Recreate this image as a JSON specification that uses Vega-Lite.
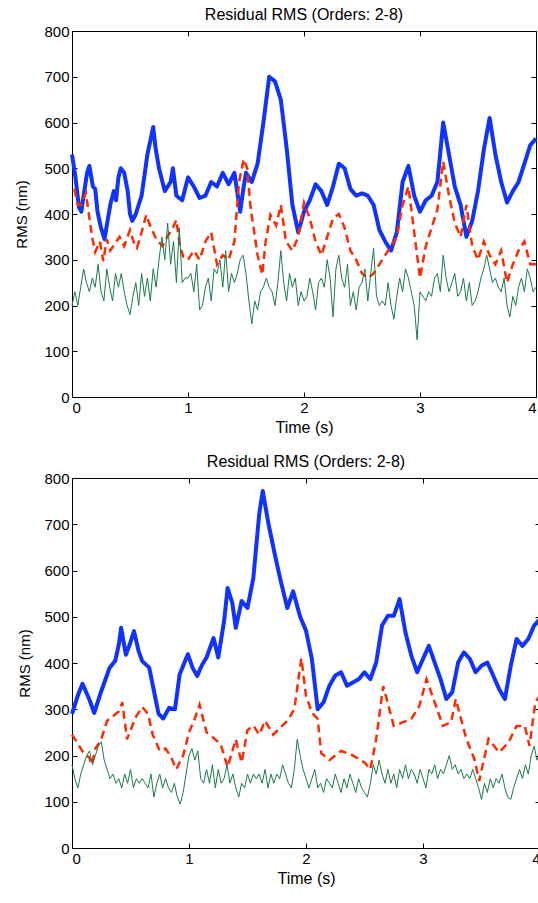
{
 "$schema": "https://vega.github.io/schema/vega-lite/v6.json",
 "padding": {"left": 14, "top": 6, "right": 0, "bottom": 0},
 "background": "white",
 "spacing": 17,
 "columns": 1,
 "align": "none",
 "config": {
  "font": "Liberation Sans",
  "view": {"stroke": "black", "strokeWidth": 1},
  "axis": {"domain": false, "grid": false, "ticks": true, "tickSize": -5, "tickColor": "black", "labelColor": "black", "titleColor": "black", "labelFont": "Liberation Sans", "labelFontSize": 15, "titleFont": "Liberation Sans", "titleFontSize": 15, "titleFontWeight": "normal"},
  "title": {"font": "Liberation Sans", "fontSize": 16, "fontWeight": "normal", "color": "black"}
 },
 "datasets": {
  "top_blue": [{"t":0,"v":530},{"t":0.03,"v":480},{"t":0.06,"v":415},{"t":0.08,"v":405},{"t":0.1,"v":440},{"t":0.13,"v":490},{"t":0.15,"v":505},{"t":0.18,"v":460},{"t":0.2,"v":455},{"t":0.22,"v":405},{"t":0.25,"v":370},{"t":0.28,"v":345},{"t":0.3,"v":375},{"t":0.33,"v":420},{"t":0.36,"v":450},{"t":0.38,"v":430},{"t":0.4,"v":480},{"t":0.42,"v":500},{"t":0.45,"v":490},{"t":0.48,"v":450},{"t":0.5,"v":400},{"t":0.52,"v":385},{"t":0.55,"v":400},{"t":0.6,"v":440},{"t":0.65,"v":530},{"t":0.7,"v":590},{"t":0.72,"v":545},{"t":0.75,"v":500},{"t":0.8,"v":450},{"t":0.85,"v":470},{"t":0.87,"v":500},{"t":0.9,"v":440},{"t":0.95,"v":430},{"t":1.0,"v":480},{"t":1.05,"v":460},{"t":1.1,"v":435},{"t":1.15,"v":440},{"t":1.2,"v":470},{"t":1.25,"v":460},{"t":1.3,"v":490},{"t":1.35,"v":465},{"t":1.4,"v":490},{"t":1.45,"v":405},{"t":1.48,"v":460},{"t":1.5,"v":490},{"t":1.55,"v":470},{"t":1.6,"v":510},{"t":1.65,"v":600},{"t":1.7,"v":700},{"t":1.75,"v":690},{"t":1.8,"v":650},{"t":1.85,"v":545},{"t":1.9,"v":420},{"t":1.95,"v":360},{"t":2.0,"v":405},{"t":2.05,"v":430},{"t":2.1,"v":465},{"t":2.15,"v":450},{"t":2.2,"v":420},{"t":2.25,"v":460},{"t":2.3,"v":510},{"t":2.35,"v":500},{"t":2.4,"v":455},{"t":2.45,"v":440},{"t":2.5,"v":445},{"t":2.55,"v":440},{"t":2.6,"v":420},{"t":2.65,"v":365},{"t":2.7,"v":340},{"t":2.75,"v":320},{"t":2.8,"v":360},{"t":2.85,"v":470},{"t":2.9,"v":505},{"t":2.95,"v":440},{"t":3.0,"v":405},{"t":3.05,"v":430},{"t":3.1,"v":440},{"t":3.15,"v":470},{"t":3.2,"v":600},{"t":3.25,"v":530},{"t":3.3,"v":460},{"t":3.35,"v":420},{"t":3.4,"v":350},{"t":3.45,"v":385},{"t":3.5,"v":450},{"t":3.55,"v":540},{"t":3.6,"v":610},{"t":3.65,"v":530},{"t":3.7,"v":470},{"t":3.75,"v":425},{"t":3.8,"v":450},{"t":3.85,"v":470},{"t":3.9,"v":510},{"t":3.95,"v":550},{"t":4.0,"v":565}],
  "top_red": [{"t":0.02,"v":455},{"t":0.05,"v":420},{"t":0.08,"v":420},{"t":0.12,"v":446},{"t":0.17,"v":354},{"t":0.2,"v":317},{"t":0.24,"v":340},{"t":0.27,"v":297},{"t":0.3,"v":345},{"t":0.33,"v":320},{"t":0.36,"v":332},{"t":0.41,"v":350},{"t":0.45,"v":330},{"t":0.5,"v":365},{"t":0.53,"v":340},{"t":0.56,"v":326},{"t":0.6,"v":360},{"t":0.64,"v":398},{"t":0.68,"v":370},{"t":0.73,"v":343},{"t":0.78,"v":330},{"t":0.82,"v":350},{"t":0.86,"v":365},{"t":0.9,"v":387},{"t":0.93,"v":330},{"t":0.96,"v":306},{"t":1.0,"v":300},{"t":1.05,"v":320},{"t":1.1,"v":300},{"t":1.15,"v":340},{"t":1.2,"v":360},{"t":1.25,"v":290},{"t":1.3,"v":310},{"t":1.35,"v":300},{"t":1.4,"v":340},{"t":1.44,"v":470},{"t":1.48,"v":520},{"t":1.51,"v":500},{"t":1.54,"v":413},{"t":1.6,"v":310},{"t":1.64,"v":267},{"t":1.67,"v":341},{"t":1.71,"v":398},{"t":1.76,"v":375},{"t":1.8,"v":420},{"t":1.845,"v":340},{"t":1.9,"v":320},{"t":1.95,"v":350},{"t":2.0,"v":425},{"t":2.05,"v":390},{"t":2.1,"v":340},{"t":2.15,"v":310},{"t":2.2,"v":350},{"t":2.25,"v":390},{"t":2.3,"v":400},{"t":2.35,"v":370},{"t":2.4,"v":320},{"t":2.45,"v":300},{"t":2.5,"v":270},{"t":2.55,"v":260},{"t":2.6,"v":270},{"t":2.65,"v":290},{"t":2.7,"v":310},{"t":2.75,"v":330},{"t":2.8,"v":350},{"t":2.85,"v":420},{"t":2.9,"v":460},{"t":2.95,"v":360},{"t":3.0,"v":260},{"t":3.05,"v":330},{"t":3.1,"v":370},{"t":3.15,"v":410},{"t":3.2,"v":515},{"t":3.25,"v":440},{"t":3.3,"v":380},{"t":3.35,"v":350},{"t":3.4,"v":420},{"t":3.45,"v":330},{"t":3.5,"v":300},{"t":3.55,"v":340},{"t":3.6,"v":310},{"t":3.65,"v":290},{"t":3.7,"v":320},{"t":3.75,"v":250},{"t":3.8,"v":290},{"t":3.85,"v":320},{"t":3.9,"v":340},{"t":3.95,"v":290},{"t":4.0,"v":290}],
  "top_green": [{"t":0,"v":200},{"t":0.025,"v":230},{"t":0.05,"v":200},{"t":0.075,"v":240},{"t":0.1,"v":280},{"t":0.125,"v":250},{"t":0.15,"v":230},{"t":0.175,"v":260},{"t":0.2,"v":240},{"t":0.225,"v":290},{"t":0.25,"v":230},{"t":0.275,"v":210},{"t":0.3,"v":280},{"t":0.325,"v":240},{"t":0.35,"v":210},{"t":0.375,"v":270},{"t":0.4,"v":240},{"t":0.425,"v":270},{"t":0.45,"v":230},{"t":0.475,"v":200},{"t":0.5,"v":180},{"t":0.525,"v":220},{"t":0.55,"v":250},{"t":0.575,"v":200},{"t":0.6,"v":270},{"t":0.625,"v":220},{"t":0.65,"v":260},{"t":0.675,"v":210},{"t":0.7,"v":280},{"t":0.725,"v":240},{"t":0.75,"v":300},{"t":0.775,"v":350},{"t":0.8,"v":300},{"t":0.825,"v":380},{"t":0.85,"v":290},{"t":0.875,"v":340},{"t":0.9,"v":250},{"t":0.925,"v":370},{"t":0.95,"v":250},{"t":0.975,"v":260},{"t":1.0,"v":260},{"t":1.025,"v":270},{"t":1.05,"v":230},{"t":1.075,"v":290},{"t":1.1,"v":190},{"t":1.125,"v":200},{"t":1.15,"v":240},{"t":1.175,"v":260},{"t":1.2,"v":210},{"t":1.225,"v":280},{"t":1.25,"v":270},{"t":1.275,"v":300},{"t":1.3,"v":240},{"t":1.325,"v":320},{"t":1.35,"v":230},{"t":1.375,"v":270},{"t":1.4,"v":250},{"t":1.425,"v":270},{"t":1.45,"v":300},{"t":1.475,"v":310},{"t":1.5,"v":270},{"t":1.525,"v":210},{"t":1.55,"v":160},{"t":1.575,"v":210},{"t":1.6,"v":190},{"t":1.625,"v":230},{"t":1.65,"v":240},{"t":1.675,"v":260},{"t":1.7,"v":240},{"t":1.725,"v":230},{"t":1.75,"v":200},{"t":1.775,"v":250},{"t":1.8,"v":320},{"t":1.825,"v":250},{"t":1.85,"v":210},{"t":1.875,"v":270},{"t":1.9,"v":240},{"t":1.925,"v":260},{"t":1.95,"v":200},{"t":1.975,"v":230},{"t":2.0,"v":210},{"t":2.025,"v":220},{"t":2.05,"v":260},{"t":2.075,"v":230},{"t":2.1,"v":190},{"t":2.125,"v":250},{"t":2.15,"v":260},{"t":2.175,"v":240},{"t":2.2,"v":300},{"t":2.225,"v":260},{"t":2.25,"v":175},{"t":2.275,"v":280},{"t":2.3,"v":310},{"t":2.325,"v":260},{"t":2.35,"v":240},{"t":2.375,"v":290},{"t":2.4,"v":200},{"t":2.425,"v":230},{"t":2.45,"v":190},{"t":2.475,"v":240},{"t":2.5,"v":250},{"t":2.525,"v":280},{"t":2.55,"v":210},{"t":2.575,"v":270},{"t":2.6,"v":325},{"t":2.625,"v":220},{"t":2.65,"v":200},{"t":2.675,"v":210},{"t":2.7,"v":200},{"t":2.725,"v":250},{"t":2.75,"v":200},{"t":2.775,"v":170},{"t":2.8,"v":220},{"t":2.825,"v":260},{"t":2.85,"v":230},{"t":2.875,"v":280},{"t":2.9,"v":260},{"t":2.925,"v":230},{"t":2.95,"v":200},{"t":2.975,"v":125},{"t":3.0,"v":230},{"t":3.025,"v":220},{"t":3.05,"v":210},{"t":3.075,"v":230},{"t":3.1,"v":220},{"t":3.125,"v":260},{"t":3.15,"v":270},{"t":3.175,"v":230},{"t":3.2,"v":310},{"t":3.225,"v":260},{"t":3.25,"v":230},{"t":3.275,"v":250},{"t":3.3,"v":270},{"t":3.325,"v":220},{"t":3.35,"v":230},{"t":3.375,"v":260},{"t":3.4,"v":210},{"t":3.425,"v":250},{"t":3.45,"v":200},{"t":3.475,"v":210},{"t":3.5,"v":230},{"t":3.525,"v":260},{"t":3.55,"v":280},{"t":3.575,"v":310},{"t":3.6,"v":280},{"t":3.625,"v":250},{"t":3.65,"v":260},{"t":3.675,"v":240},{"t":3.7,"v":230},{"t":3.725,"v":260},{"t":3.75,"v":200},{"t":3.775,"v":175},{"t":3.8,"v":220},{"t":3.825,"v":200},{"t":3.85,"v":240},{"t":3.875,"v":260},{"t":3.9,"v":230},{"t":3.925,"v":280},{"t":3.95,"v":260},{"t":3.975,"v":230},{"t":4.0,"v":240}],
  "bot_blue": [{"t":0,"v":290},{"t":0.05,"v":330},{"t":0.09,"v":355},{"t":0.15,"v":320},{"t":0.19,"v":292},{"t":0.25,"v":339},{"t":0.32,"v":389},{"t":0.37,"v":405},{"t":0.4,"v":440},{"t":0.42,"v":476},{"t":0.46,"v":418},{"t":0.5,"v":445},{"t":0.53,"v":469},{"t":0.57,"v":425},{"t":0.6,"v":404},{"t":0.66,"v":390},{"t":0.7,"v":340},{"t":0.74,"v":290},{"t":0.78,"v":280},{"t":0.83,"v":303},{"t":0.88,"v":300},{"t":0.92,"v":375},{"t":0.99,"v":419},{"t":1.03,"v":390},{"t":1.07,"v":372},{"t":1.11,"v":395},{"t":1.15,"v":412},{"t":1.21,"v":454},{"t":1.25,"v":412},{"t":1.3,"v":491},{"t":1.33,"v":562},{"t":1.37,"v":530},{"t":1.4,"v":476},{"t":1.45,"v":534},{"t":1.5,"v":519},{"t":1.55,"v":584},{"t":1.6,"v":722},{"t":1.63,"v":772},{"t":1.68,"v":700},{"t":1.74,"v":627},{"t":1.78,"v":582},{"t":1.84,"v":519},{"t":1.89,"v":555},{"t":1.95,"v":500},{"t":2.0,"v":470},{"t":2.05,"v":409},{"t":2.1,"v":300},{"t":2.15,"v":315},{"t":2.2,"v":351},{"t":2.25,"v":373},{"t":2.3,"v":380},{"t":2.35,"v":351},{"t":2.4,"v":358},{"t":2.45,"v":365},{"t":2.5,"v":380},{"t":2.55,"v":365},{"t":2.6,"v":401},{"t":2.65,"v":481},{"t":2.7,"v":502},{"t":2.75,"v":502},{"t":2.8,"v":538},{"t":2.85,"v":466},{"t":2.9,"v":416},{"t":2.95,"v":380},{"t":3.0,"v":409},{"t":3.05,"v":437},{"t":3.1,"v":401},{"t":3.15,"v":365},{"t":3.2,"v":322},{"t":3.25,"v":337},{"t":3.3,"v":401},{"t":3.35,"v":423},{"t":3.4,"v":409},{"t":3.45,"v":380},{"t":3.5,"v":394},{"t":3.55,"v":401},{"t":3.6,"v":373},{"t":3.65,"v":344},{"t":3.7,"v":322},{"t":3.75,"v":394},{"t":3.8,"v":452},{"t":3.85,"v":437},{"t":3.9,"v":452},{"t":3.95,"v":481},{"t":4.0,"v":495}],
  "bot_red": [{"t":0,"v":245},{"t":0.05,"v":225},{"t":0.1,"v":205},{"t":0.15,"v":195},{"t":0.17,"v":180},{"t":0.2,"v":215},{"t":0.25,"v":235},{"t":0.3,"v":275},{"t":0.35,"v":285},{"t":0.4,"v":295},{"t":0.43,"v":315},{"t":0.47,"v":235},{"t":0.5,"v":255},{"t":0.55,"v":285},{"t":0.6,"v":305},{"t":0.65,"v":290},{"t":0.69,"v":245},{"t":0.75,"v":210},{"t":0.8,"v":215},{"t":0.85,"v":195},{"t":0.89,"v":170},{"t":0.95,"v":200},{"t":1.0,"v":250},{"t":1.05,"v":280},{"t":1.09,"v":310},{"t":1.15,"v":250},{"t":1.2,"v":240},{"t":1.27,"v":225},{"t":1.33,"v":175},{"t":1.4,"v":235},{"t":1.45,"v":185},{"t":1.5,"v":255},{"t":1.55,"v":265},{"t":1.6,"v":245},{"t":1.65,"v":275},{"t":1.72,"v":245},{"t":1.78,"v":260},{"t":1.84,"v":275},{"t":1.9,"v":300},{"t":1.96,"v":410},{"t":2.0,"v":330},{"t":2.05,"v":293},{"t":2.1,"v":279},{"t":2.13,"v":205},{"t":2.2,"v":190},{"t":2.3,"v":210},{"t":2.4,"v":200},{"t":2.5,"v":185},{"t":2.55,"v":170},{"t":2.6,"v":236},{"t":2.66,"v":350},{"t":2.69,"v":322},{"t":2.75,"v":264},{"t":2.83,"v":272},{"t":2.9,"v":279},{"t":2.97,"v":308},{"t":3.03,"v":365},{"t":3.09,"v":322},{"t":3.17,"v":264},{"t":3.24,"v":272},{"t":3.28,"v":322},{"t":3.37,"v":236},{"t":3.44,"v":192},{"t":3.48,"v":145},{"t":3.56,"v":236},{"t":3.65,"v":207},{"t":3.73,"v":228},{"t":3.8,"v":264},{"t":3.87,"v":264},{"t":3.91,"v":221},{"t":3.96,"v":315},{"t":4.0,"v":330}],
  "bot_green": [{"t":0,"v":180},{"t":0.025,"v":150},{"t":0.05,"v":130},{"t":0.075,"v":160},{"t":0.1,"v":180},{"t":0.125,"v":200},{"t":0.15,"v":210},{"t":0.175,"v":180},{"t":0.2,"v":200},{"t":0.225,"v":220},{"t":0.25,"v":230},{"t":0.275,"v":190},{"t":0.3,"v":170},{"t":0.325,"v":150},{"t":0.35,"v":160},{"t":0.375,"v":140},{"t":0.4,"v":150},{"t":0.425,"v":130},{"t":0.45,"v":160},{"t":0.475,"v":140},{"t":0.5,"v":170},{"t":0.525,"v":130},{"t":0.55,"v":150},{"t":0.575,"v":140},{"t":0.6,"v":150},{"t":0.625,"v":140},{"t":0.65,"v":130},{"t":0.675,"v":160},{"t":0.7,"v":110},{"t":0.725,"v":140},{"t":0.75,"v":160},{"t":0.775,"v":130},{"t":0.8,"v":150},{"t":0.825,"v":130},{"t":0.85,"v":120},{"t":0.875,"v":140},{"t":0.9,"v":110},{"t":0.925,"v":95},{"t":0.95,"v":120},{"t":0.975,"v":160},{"t":1.0,"v":200},{"t":1.025,"v":215},{"t":1.05,"v":190},{"t":1.075,"v":210},{"t":1.1,"v":150},{"t":1.125,"v":140},{"t":1.15,"v":170},{"t":1.175,"v":140},{"t":1.2,"v":180},{"t":1.225,"v":130},{"t":1.25,"v":170},{"t":1.275,"v":140},{"t":1.3,"v":150},{"t":1.325,"v":180},{"t":1.35,"v":140},{"t":1.375,"v":160},{"t":1.4,"v":130},{"t":1.425,"v":110},{"t":1.45,"v":140},{"t":1.475,"v":130},{"t":1.5,"v":160},{"t":1.525,"v":140},{"t":1.55,"v":160},{"t":1.575,"v":150},{"t":1.6,"v":160},{"t":1.625,"v":140},{"t":1.65,"v":170},{"t":1.675,"v":130},{"t":1.7,"v":160},{"t":1.725,"v":140},{"t":1.75,"v":160},{"t":1.775,"v":150},{"t":1.8,"v":180},{"t":1.825,"v":160},{"t":1.85,"v":140},{"t":1.875,"v":130},{"t":1.9,"v":170},{"t":1.925,"v":235},{"t":1.95,"v":200},{"t":1.975,"v":170},{"t":2.0,"v":150},{"t":2.025,"v":130},{"t":2.05,"v":150},{"t":2.075,"v":170},{"t":2.1,"v":130},{"t":2.125,"v":140},{"t":2.15,"v":120},{"t":2.175,"v":150},{"t":2.2,"v":140},{"t":2.225,"v":130},{"t":2.25,"v":160},{"t":2.275,"v":140},{"t":2.3,"v":120},{"t":2.325,"v":150},{"t":2.35,"v":130},{"t":2.375,"v":160},{"t":2.4,"v":140},{"t":2.425,"v":120},{"t":2.45,"v":150},{"t":2.475,"v":130},{"t":2.5,"v":120},{"t":2.525,"v":110},{"t":2.55,"v":140},{"t":2.575,"v":180},{"t":2.6,"v":160},{"t":2.625,"v":190},{"t":2.65,"v":160},{"t":2.675,"v":140},{"t":2.7,"v":170},{"t":2.725,"v":140},{"t":2.75,"v":160},{"t":2.775,"v":130},{"t":2.8,"v":170},{"t":2.825,"v":150},{"t":2.85,"v":180},{"t":2.875,"v":150},{"t":2.9,"v":170},{"t":2.925,"v":160},{"t":2.95,"v":140},{"t":2.975,"v":170},{"t":3.0,"v":150},{"t":3.025,"v":130},{"t":3.05,"v":170},{"t":3.075,"v":160},{"t":3.1,"v":180},{"t":3.125,"v":150},{"t":3.15,"v":170},{"t":3.175,"v":160},{"t":3.2,"v":180},{"t":3.225,"v":200},{"t":3.25,"v":170},{"t":3.275,"v":180},{"t":3.3,"v":160},{"t":3.325,"v":170},{"t":3.35,"v":150},{"t":3.375,"v":160},{"t":3.4,"v":150},{"t":3.425,"v":170},{"t":3.45,"v":150},{"t":3.475,"v":130},{"t":3.5,"v":105},{"t":3.525,"v":140},{"t":3.55,"v":120},{"t":3.575,"v":150},{"t":3.6,"v":130},{"t":3.625,"v":150},{"t":3.65,"v":140},{"t":3.675,"v":160},{"t":3.7,"v":130},{"t":3.725,"v":110},{"t":3.75,"v":105},{"t":3.775,"v":130},{"t":3.8,"v":150},{"t":3.825,"v":170},{"t":3.85,"v":150},{"t":3.875,"v":180},{"t":3.9,"v":160},{"t":3.925,"v":200},{"t":3.95,"v":220},{"t":3.975,"v":190},{"t":4.0,"v":210}]
 },
 "concat": [
  {
   "title": {"text": "Residual RMS (Orders: 2-8)", "offset": 1},
   "width": 464, "height": 366,
   "layer": [
    {"data": {"name": "top_blue"}, "mark": {"type": "line", "color": "#1033ff", "strokeWidth": 4, "strokeJoin": "round"},
     "encoding": {"x": {"field": "t", "type": "quantitative", "scale": {"domain": [0, 4], "nice": false}, "axis": {"values": [0, 1, 2, 3, 4], "title": "Time (s)", "labelPadding": 8, "titlePadding": 4, "titleFontSize": 16}},
                  "y": {"field": "v", "type": "quantitative", "scale": {"domain": [0, 800], "nice": false}, "axis": {"values": [0, 100, 200, 300, 400, 500, 600, 700, 800], "title": "RMS (nm)", "labelPadding": 8, "titlePadding": 14}}}},
    {"data": {"name": "top_red"}, "mark": {"type": "line", "color": "#ff2a00", "strokeWidth": 2.5, "strokeDash": [8, 5]},
     "encoding": {"x": {"field": "t", "type": "quantitative", "scale": {"domain": [0, 4], "nice": false}, "axis": null},
                  "y": {"field": "v", "type": "quantitative", "scale": {"domain": [0, 800], "nice": false}, "axis": null}}},
    {"data": {"name": "top_green"}, "mark": {"type": "line", "color": "#1b7a4b", "strokeWidth": 1},
     "encoding": {"x": {"field": "t", "type": "quantitative", "scale": {"domain": [0, 4], "nice": false}, "axis": null},
                  "y": {"field": "v", "type": "quantitative", "scale": {"domain": [0, 800], "nice": false}, "axis": null}}},
    {"data": {"name": "top_green"}, "mark": {"type": "point", "opacity": 0},
     "encoding": {"x": {"field": "t", "type": "quantitative", "scale": {"domain": [0, 4], "nice": false}, "axis": {"orient": "top", "values": [0, 1, 2, 3, 4], "labels": false, "title": null}},
                  "y": {"field": "v", "type": "quantitative", "scale": {"domain": [0, 800], "nice": false}, "axis": {"orient": "right", "values": [0, 100, 200, 300, 400, 500, 600, 700, 800], "labels": false, "title": null}}}}
   ],
   "resolve": {"axis": {"x": "independent", "y": "independent"}}
  },
  {
   "title": {"text": "Residual RMS (Orders: 2-8)", "offset": 1},
   "width": 468, "height": 370,
   "layer": [
    {"data": {"name": "bot_blue"}, "mark": {"type": "line", "color": "#1033ff", "strokeWidth": 4, "strokeJoin": "round"},
     "encoding": {"x": {"field": "t", "type": "quantitative", "scale": {"domain": [0, 4], "nice": false}, "axis": {"values": [0, 1, 2, 3, 4], "title": "Time (s)", "labelPadding": 8, "titlePadding": 4, "titleFontSize": 16}},
                  "y": {"field": "v", "type": "quantitative", "scale": {"domain": [0, 800], "nice": false}, "axis": {"values": [0, 100, 200, 300, 400, 500, 600, 700, 800], "title": "RMS (nm)", "labelPadding": 8, "titlePadding": 11}}}},
    {"data": {"name": "bot_red"}, "mark": {"type": "line", "color": "#ff2a00", "strokeWidth": 2.5, "strokeDash": [8, 5]},
     "encoding": {"x": {"field": "t", "type": "quantitative", "scale": {"domain": [0, 4], "nice": false}, "axis": null},
                  "y": {"field": "v", "type": "quantitative", "scale": {"domain": [0, 800], "nice": false}, "axis": null}}},
    {"data": {"name": "bot_green"}, "mark": {"type": "line", "color": "#1b7a4b", "strokeWidth": 1},
     "encoding": {"x": {"field": "t", "type": "quantitative", "scale": {"domain": [0, 4], "nice": false}, "axis": null},
                  "y": {"field": "v", "type": "quantitative", "scale": {"domain": [0, 800], "nice": false}, "axis": null}}},
    {"data": {"name": "bot_green"}, "mark": {"type": "point", "opacity": 0},
     "encoding": {"x": {"field": "t", "type": "quantitative", "scale": {"domain": [0, 4], "nice": false}, "axis": {"orient": "top", "values": [0, 1, 2, 3, 4], "labels": false, "title": null}},
                  "y": {"field": "v", "type": "quantitative", "scale": {"domain": [0, 800], "nice": false}, "axis": {"orient": "right", "values": [0, 100, 200, 300, 400, 500, 600, 700, 800], "labels": false, "title": null}}}}
   ],
   "resolve": {"axis": {"x": "independent", "y": "independent"}}
  }
 ]
}
